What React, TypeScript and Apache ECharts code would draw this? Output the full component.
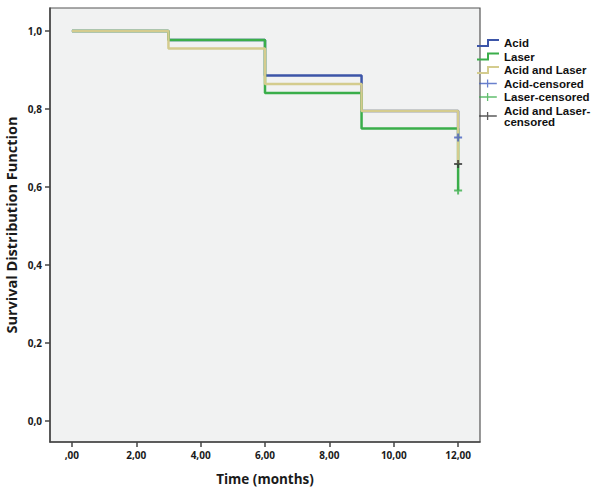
import React, { useEffect, useRef } from "react";
import * as echarts from "echarts";

const timePoints = [0, 3, 6, 9, 12];
const acidSurv = [1, 0.977, 0.886, 0.795, 0.727];
const laserSurv = [1, 0.977, 0.841, 0.75, 0.591];
const acidLaserSurv = [1, 0.955, 0.864, 0.795, 0.659];
const censorTime = 12;
const acidCensored = [0.727];
const laserCensored = [0.591];
const acidLaserCensored = [0.659];
const xTicks = [0, 2, 4, 6, 8, 10, 12];
const yTicks = [0, 0.2, 0.4, 0.6, 0.8, 1];

const COLORS = {
  acid: "#3c55a8",
  laser: "#3aae4a",
  acidLaser: "#d4cc8e",
  acidC: "#4460c0",
  laserC: "#3aae4a",
  acidLaserC: "#333333",
};

const stepIcon = "path://M0,6 L10,6 L10,0 L22,0 L22,2 L12,2 L12,8 L0,8 Z";
const crossIcon = "path://M9.7,0 L11.3,0 L11.3,4.2 L22,4.2 L22,5.8 L11.3,5.8 L11.3,10 L9.7,10 L9.7,5.8 L0,5.8 L0,4.2 L9.7,4.2 Z";
const plusSymbol = "path://M3,0 L5,0 L5,3 L8,3 L8,5 L5,5 L5,8 L3,8 L3,5 L0,5 L0,3 L3,3 Z";

const fmtX = (v: number) => (v === 0 ? ",00" : v.toFixed(2).replace(".", ","));
const fmtY = (v: number) => v.toFixed(1).replace(".", ",");

export default function App() {
  const ref = useRef<HTMLDivElement>(null);
  useEffect(() => {
    if (!ref.current) return;
    const chart = echarts.init(ref.current, null, { renderer: "svg" });
    const toPairs = (vals: number[]) => timePoints.map((t, i) => [t, vals[i]]);
    const axisFont = { fontFamily: "Open Sans", fontWeight: "bold" as const, color: "#1a1a1a" };
    chart.setOption({
      animation: false,
      backgroundColor: "#ffffff",
      grid: {
        left: 50,
        top: 8,
        right: 120,
        bottom: 59,
        containLabel: false,
        outerBoundsMode: "none",
        show: true,
        backgroundColor: "#f1f2f2",
        borderColor: "#555555",
        borderWidth: 1.2,
      },
      xAxis: {
        type: "value",
        min: -0.68,
        max: 12.68,
        name: "Time (months)",
        nameLocation: "middle",
        nameGap: 30,
        nameMoveOverlap: false,
        nameTextStyle: { ...axisFont, fontSize: 13.5 },
        axisLine: { show: true, onZero: false, lineStyle: { color: "#444", width: 1.5 } },
        axisTick: { show: true, customValues: xTicks, length: 5, lineStyle: { color: "#444", width: 1.5 } },
        axisLabel: { customValues: xTicks, formatter: fmtX, margin: 8, ...axisFont, fontSize: 10 },
        splitLine: { show: false },
      },
      yAxis: {
        type: "value",
        min: -0.054,
        max: 1.059,
        name: "Survival Distribution Function",
        nameLocation: "middle",
        nameGap: 31,
        nameMoveOverlap: false,
        nameTextStyle: { ...axisFont, fontSize: 14.5 },
        axisLine: { show: true, onZero: false, lineStyle: { color: "#444", width: 1.5 } },
        axisTick: { show: true, customValues: yTicks, length: 5, lineStyle: { color: "#444", width: 1.5 } },
        axisLabel: { customValues: yTicks, formatter: fmtY, margin: 8, ...axisFont, fontSize: 10 },
        splitLine: { show: false },
      },
      legend: {
        orient: "vertical",
        left: 477,
        top: 37,
        padding: 0,
        itemWidth: 22,
        itemHeight: 8,
        itemGap: 1.5,
        selectedMode: false,
        textStyle: {
          fontFamily: "Liberation Sans",
          fontWeight: "bold",
          fontSize: 11.5,
          color: "#111",
          lineHeight: 11,
        },
        data: [
          { name: "Acid", icon: stepIcon },
          { name: "Laser", icon: stepIcon },
          { name: "Acid and Laser", icon: stepIcon },
          { name: "Acid-censored", icon: crossIcon },
          { name: "Laser-censored", icon: crossIcon },
          { name: "Acid and Laser-\ncensored", icon: crossIcon },
        ],
      },
      series: [
        {
          name: "Acid",
          type: "line",
          step: "end",
          data: toPairs(acidSurv),
          showSymbol: false,
          color: COLORS.acid,
          lineStyle: { color: COLORS.acid, width: 2.5 },
          z: 2,
        },
        {
          name: "Laser",
          type: "line",
          step: "end",
          data: toPairs(laserSurv),
          showSymbol: false,
          color: COLORS.laser,
          lineStyle: { color: COLORS.laser, width: 2.5 },
          z: 3,
        },
        {
          name: "Acid and Laser",
          type: "line",
          step: "end",
          data: toPairs(acidLaserSurv),
          showSymbol: false,
          color: COLORS.acidLaser,
          lineStyle: { color: COLORS.acidLaser, width: 2.5 },
          z: 4,
        },
        {
          name: "Acid-censored",
          type: "scatter",
          data: acidCensored.map((v) => [censorTime, v]),
          symbol: plusSymbol,
          symbolSize: 8,
          color: COLORS.acidC,
          z: 6,
        },
        {
          name: "Laser-censored",
          type: "scatter",
          data: laserCensored.map((v) => [censorTime, v]),
          symbol: plusSymbol,
          symbolSize: 8,
          color: COLORS.laserC,
          z: 6,
        },
        {
          name: "Acid and Laser-\ncensored",
          type: "scatter",
          data: acidLaserCensored.map((v) => [censorTime, v]),
          symbol: plusSymbol,
          symbolSize: 8,
          color: COLORS.acidLaserC,
          z: 6,
        },
      ],
    });
    return () => chart.dispose();
  }, []);
  return (
    <div
      ref={ref}
      style={{ position: "fixed", left: 0, top: 0, width: 600, height: 501 }}
    />
  );
}
